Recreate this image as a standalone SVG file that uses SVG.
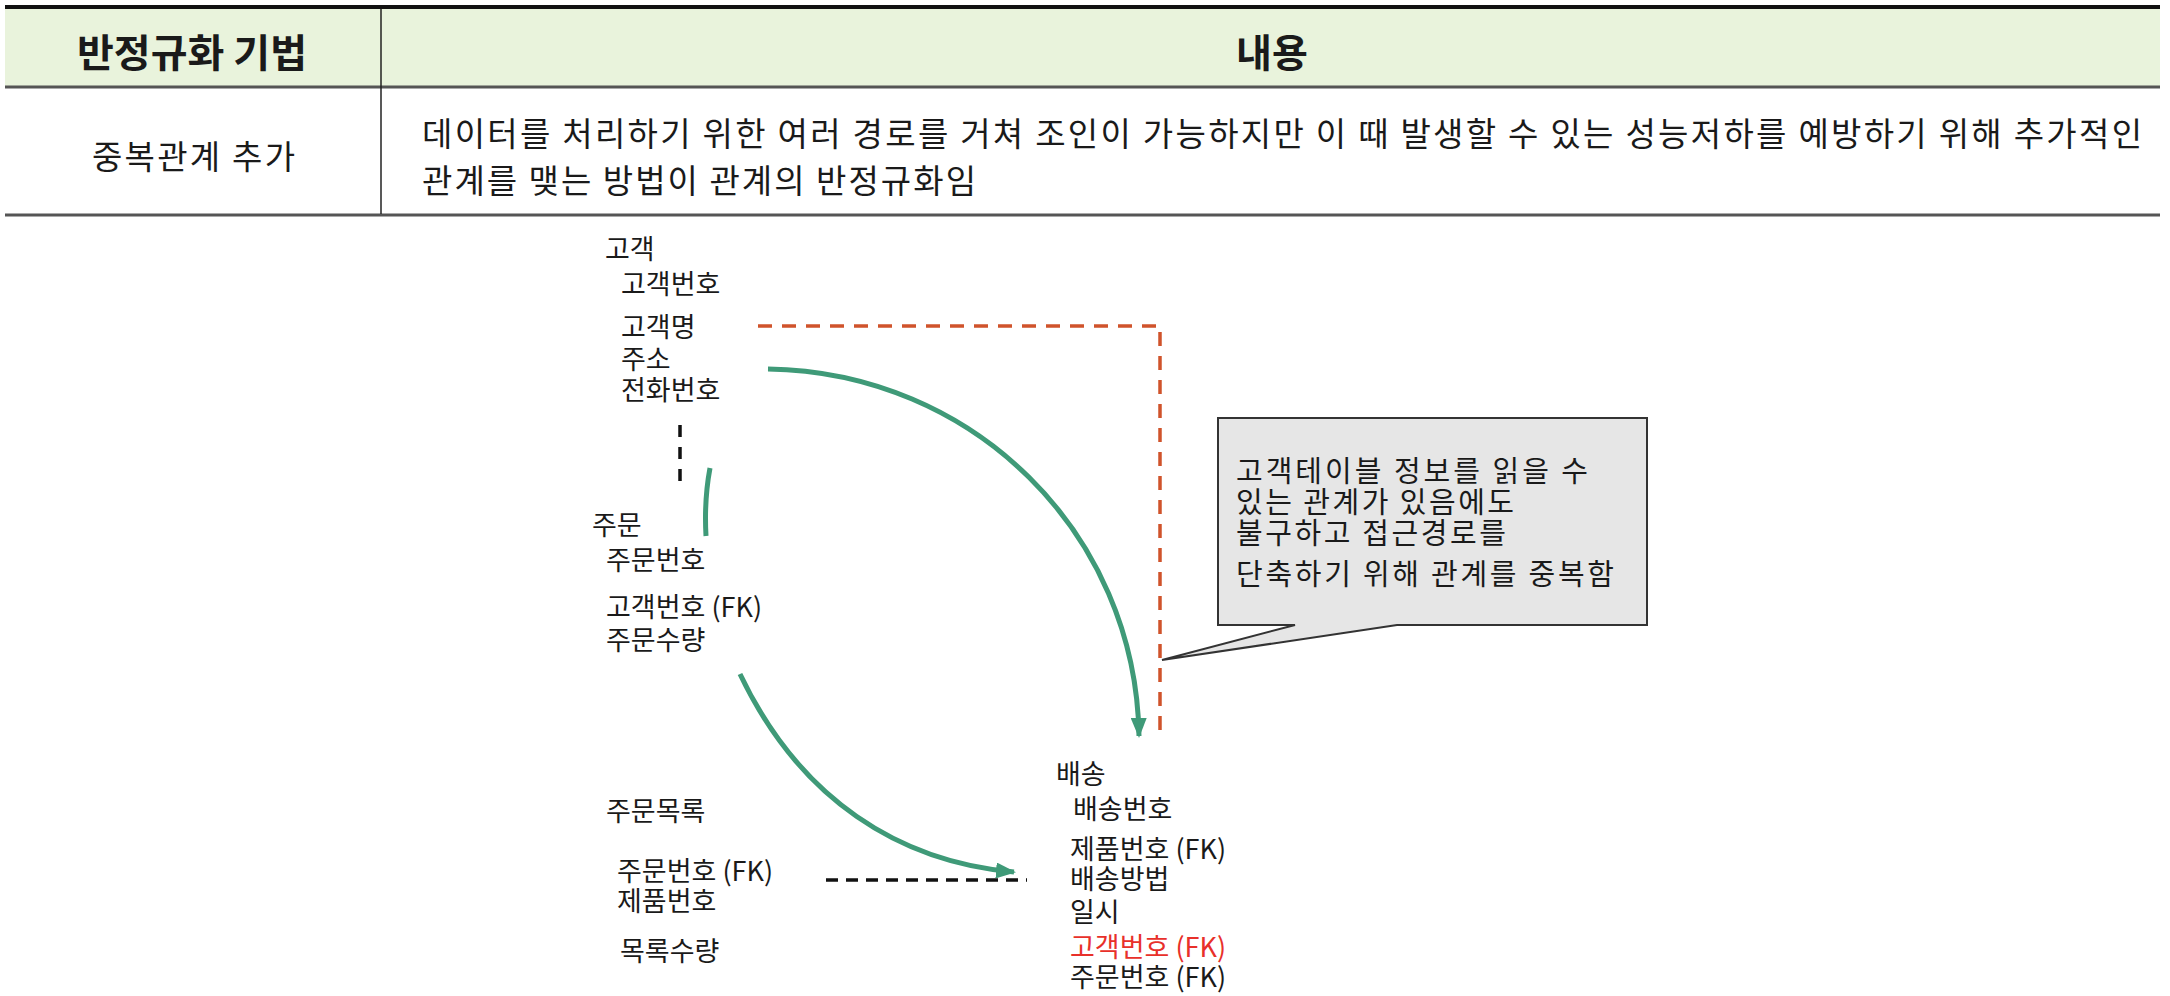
<svg xmlns="http://www.w3.org/2000/svg" width="2170" height="996" viewBox="0 0 2170 996">
<defs>
<style>
.t{font-family:"Noto Sans CJK KR","Noto Sans",sans-serif;fill:#1a1a1a}
.d{font-size:27px}
.b{font-size:33px}
.h{font-size:39px;font-weight:bold}
.c{font-size:29px}
.g{fill:none;stroke:#3f9a78;stroke-width:5}
</style>
<marker id="ah" viewBox="0 0 20 16" refX="18" refY="8" markerWidth="20" markerHeight="16" markerUnits="userSpaceOnUse" orient="auto">
<path d="M0,0 L20,8 L0,16 Z" fill="#3f9a78"/>
</marker>
</defs>
<rect width="2170" height="996" fill="#ffffff"/>
<g id="table">
<rect x="5" y="8" width="2155" height="78" fill="#e9f3dc"/>
<line x1="5" y1="7" x2="2160" y2="7" stroke="#111" stroke-width="4"/>
<line x1="5" y1="87" x2="2160" y2="87" stroke="#555" stroke-width="3"/>
<line x1="5" y1="215" x2="2160" y2="215" stroke="#555" stroke-width="3"/>
<line x1="381" y1="9" x2="381" y2="214" stroke="#222" stroke-width="1.5"/>
<text class="t h" x="77" y="67" textLength="230" lengthAdjust="spacingAndGlyphs">반정규화 기법</text>
<text class="t h" x="1272" y="67" text-anchor="middle">내용</text>
<text class="t b" x="92" y="169" textLength="203">중복관계 추가</text>
<text class="t b" x="422" y="146" textLength="1720">데이터를 처리하기 위한 여러 경로를 거쳐 조인이 가능하지만 이 때 발생할 수 있는 성능저하를 예방하기 위해 추가적인</text>
<text class="t b" x="422" y="193" textLength="554">관계를 맺는 방법이 관계의 반정규화임</text>
</g>
<g id="customer">
<text class="t d" x="605" y="259">고객</text>
<text class="t d" x="621" y="294">고객번호</text>
<text class="t d" x="621" y="337">고객명</text>
<text class="t d" x="621" y="369">주소</text>
<text class="t d" x="621" y="400">전화번호</text>
</g>
<g id="order">
<text class="t d" x="592" y="535">주문</text>
<text class="t d" x="606" y="570">주문번호</text>
<text class="t d" x="606" y="617">고객번호 (FK)</text>
<text class="t d" x="606" y="650">주문수량</text>
</g>
<g id="orderlist">
<text class="t d" x="606" y="821">주문목록</text>
<text class="t d" x="617" y="881">주문번호 (FK)</text>
<text class="t d" x="617" y="911">제품번호</text>
<text class="t d" x="620" y="961">목록수량</text>
</g>
<g id="delivery">
<text class="t d" x="1056" y="784">배송</text>
<text class="t d" x="1073" y="819">배송번호</text>
<text class="t d" x="1070" y="859">제품번호 (FK)</text>
<text class="t d" x="1070" y="889">배송방법</text>
<text class="t d" x="1070" y="922">일시</text>
<text class="t d" x="1070" y="957" style="fill:#e8302a">고객번호 (FK)</text>
<text class="t d" x="1070" y="987">주문번호 (FK)</text>
</g>
<g id="callout">
<path d="M1218,418 H1647 V625 H1397 L1162,660 L1295,625 H1218 Z" fill="#e6e6e6" stroke="#333" stroke-width="2" stroke-linejoin="miter"/>
<text class="t c" x="1236" y="482" textLength="352">고객테이블 정보를 읽을 수</text>
<text class="t c" x="1236" y="513" textLength="278">있는 관계가 있음에도</text>
<text class="t c" x="1236" y="544" textLength="270">불구하고 접근경로를</text>
<text class="t c" x="1236" y="585" textLength="378">단축하기 위해 관계를 중복함</text>
</g>
<g id="connectors">
<path d="M758,326 H1160 V734" fill="none" stroke="#d0532b" stroke-width="3.5" stroke-dasharray="14,10"/>
<line x1="680" y1="425" x2="680" y2="487" stroke="#111" stroke-width="3.5" stroke-dasharray="12,10"/>
<line x1="826" y1="880" x2="1027" y2="880" stroke="#111" stroke-width="3.5" stroke-dasharray="12,8"/>
<path class="g" d="M710,468 Q704,500 706,536"/>
<path class="g" d="M768,369 C973,372 1136,533 1139,736" marker-end="url(#ah)"/>
<path class="g" d="M740,674 C800,800 900,862 1014,872" marker-end="url(#ah)"/>
</g>
</svg>
